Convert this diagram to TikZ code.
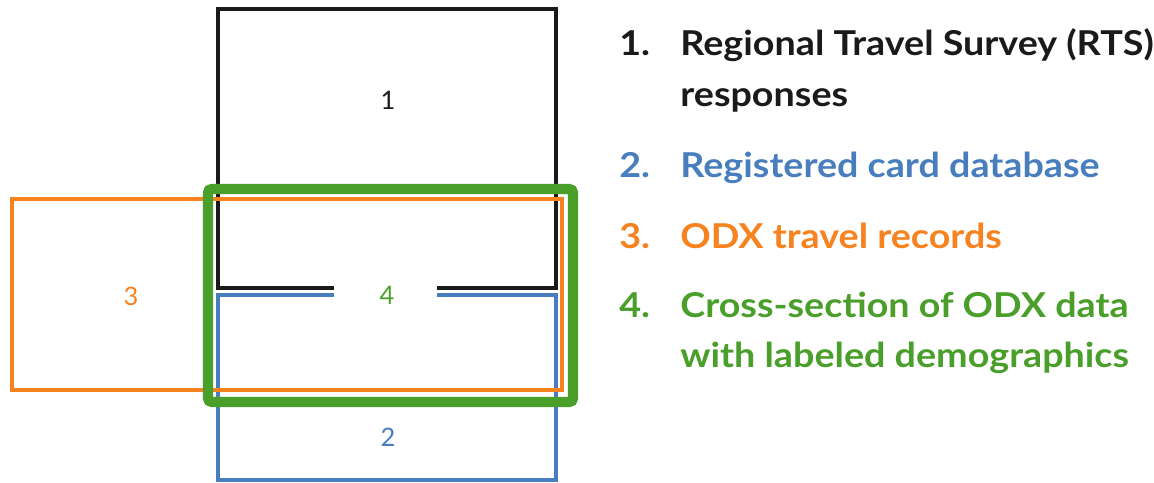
\documentclass[tikz,border=0pt]{standalone}
\usepackage{fontspec}
\setmainfont{Lato}
\newfontfamily\legendfont[FakeStretch=1.1]{Lato}
\definecolor{rtsblack}{RGB}{26,26,26}
\definecolor{cardblue}{RGB}{72,125,190}
\definecolor{odxorange}{RGB}{246,130,32}
\definecolor{crossgreen}{RGB}{74,158,42}
\begin{document}
\begin{tikzpicture}[x=0.02cm,y=-0.02cm,
    boxline/.style={line width=1.8pt,line cap=butt,line join=miter},
    boxlabel/.style={font=\fontsize{14.5}{16}\selectfont,inner sep=0pt},
    itemnum/.style={font=\fontsize{19.5}{30}\legendfont\bfseries,anchor=base west,inner sep=0pt},
    itemtext/.style={font=\fontsize{19.5}{30}\legendfont\bfseries,anchor=base west,inner sep=0pt}]
      \useasboundingbox (0,0) rectangle (1154,483);
      \draw[boxline,rtsblack]
      (334,288) --
      (218,288) --
      (218,9) --
      (556,9) --
      (556,288) --
      (437,288);
      \draw[boxline,cardblue]
      (334,295) --
      (218,295) --
      (218,480) --
      (556,480) --
      (556,295) --
      (437,295);
      \draw[boxline,odxorange] (12,199) rectangle (562,390);
      \draw[crossgreen,line width=5.7pt,rounded corners=2pt] (208,189) rectangle (573,402);
      \node[boxlabel,rtsblack] (lbl1) at (388,100) {1};
      \node[boxlabel,cardblue] (lbl2) at (388,437) {2};
      \node[boxlabel,odxorange] (lbl3) at (131,296) {3};
      \node[boxlabel,crossgreen] (lbl4) at (387,295) {4};
      \node[itemnum,rtsblack] (num1) at (619,56) {1.};
      \node[itemtext,rtsblack] (item1) at (680,56) {Regional Travel Survey (RTS)};
      \node[itemtext,rtsblack] (item1b) at (680,107) {responses};
      \node[itemnum,cardblue] (num2) at (619,177) {2.};
      \node[itemtext,cardblue] (item2) at (680,177) {Registered card database};
      \node[itemnum,odxorange] (num3) at (619,249) {3.};
      \node[itemtext,odxorange] (item3) at (680,249) {ODX travel records};
      \node[itemnum,crossgreen] (num4) at (619,317) {4.};
      \node[itemtext,crossgreen] (item4) at (680,317) {Cross-section of ODX data};
      \node[itemtext,crossgreen] (item4b) at (680,367) {with labeled demographics};
    \end{tikzpicture}
\end{document}
